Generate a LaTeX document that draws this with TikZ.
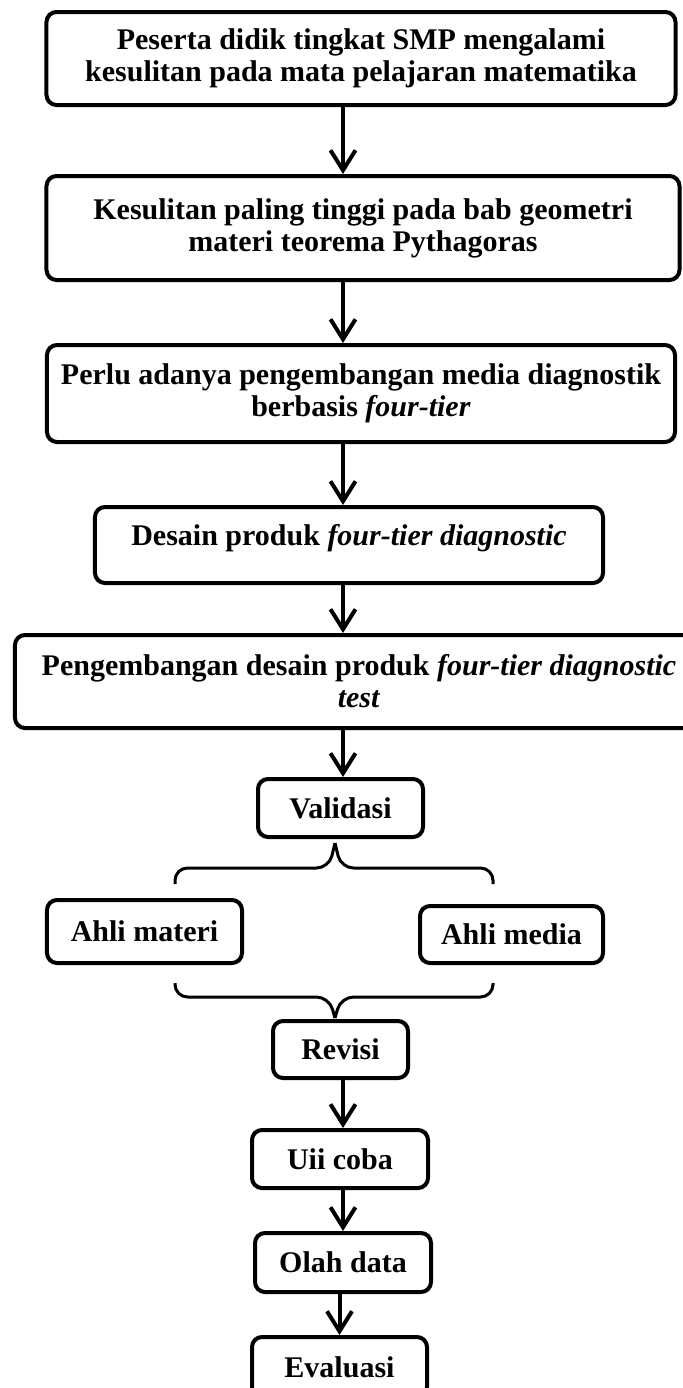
\documentclass[tikz,border=0pt]{standalone}
\usepackage{fontspec}
\setmainfont{Liberation Serif}
\usetikzlibrary{arrows.meta}

\begin{document}
\begin{tikzpicture}[x=0.4pt, y=-0.4pt,
		box/.style={draw, rounded corners=4pt, line width=1.6pt, align=center, inner sep=1pt, font=\fontsize{12}{12.8}\selectfont\bfseries},
		flow/.style={-{Straight Barb[length=8pt,width=10pt]}, line width=1.6pt},
		curly/.style={line width=1.2pt, rounded corners=5pt}]
				\useasboundingbox (0,0) rectangle (682,1388);
				\coordinate (axis) at (343,0);
				\node[box, minimum width=251.6pt, minimum height=37.2pt] (masalah)at(361, 58.5) {Peserta didik tingkat SMP mengalami\\kesulitan pada mata pelajaran matematika};
				\node[box, minimum width=253.2pt, minimum height=41.6pt] (kesulitan)at(363, 228) {Kesulitan paling tinggi pada bab geometri\\materi teorema Pythagoras};
				\node[box, minimum width=251.2pt, minimum height=38.8pt] (perlu)at(361, 393.5) {Perlu adanya pengembangan media diagnostik\\berbasis \textit{four-tier}};
				\node[box, minimum width=203.2pt, minimum height=30.4pt, text depth=8pt] (desain)at(349, 545) {Desain produk \textit{four-tier diagnostic}};
				\node[box, minimum width=275.2pt, minimum height=37.2pt] (pengembangan)at(359, 681.5) {Pengembangan desain produk \textit{four-tier diagnostic}\\\textit{test}};
				\node[box, minimum width=66pt, minimum height=23.2pt] (validasi)at(340.5, 808) {Validasi};
				\node[box, minimum width=78pt, minimum height=25.2pt] (materi)at(144.5, 931.5) {Ahli materi};
				\node[box, minimum width=73.2pt, minimum height=22.8pt] (media)at(511.5, 934.5) {Ahli media};
				\node[box, minimum width=54pt, minimum height=22.8pt] (revisi)at(340.5, 1049.5) {Revisi};
				\node[box, minimum width=70.4pt, minimum height=23.2pt] (ujicoba)at(340, 1159) {Uii coba};
				\node[box, minimum width=70.4pt, minimum height=23.6pt] (olah)at(343, 1262.5) {Olah data};
				\node[box, minimum width=70pt, minimum height=24pt] (evaluasi)at(339.5, 1367) {Evaluasi};
				\draw[flow] (masalah.south -| axis) -- (kesulitan.north -| axis);
				\draw[flow] (kesulitan.south -| axis) -- (perlu.north -| axis);
				\draw[flow] (perlu.south -| axis) -- (desain.north -| axis);
				\draw[flow] (desain.south -| axis) -- (pengembangan.north -| axis);
				\draw[flow] (pengembangan.south -| axis) -- (validasi.north -| axis);
				\draw[flow] (revisi.south -| axis) -- (ujicoba.north -| axis);
				\draw[flow] (ujicoba.south -| axis) -- (olah.north -| axis);
				\draw[flow] (olah.south -| evaluasi) -- (evaluasi.north);
				% braces
				\draw[curly] (175, 884) -- (175, 868) -- (329, 868) -- (335, 843);
				\draw[curly] (335, 843) -- (341, 868) -- (493, 868) -- (493, 884);
				\draw[curly] (175, 983) -- (175, 997) -- (329, 997) -- (335, 1018);
				\draw[curly] (335, 1018) -- (341, 997) -- (493, 997) -- (493, 983);
			\end{tikzpicture}
\end{document}
